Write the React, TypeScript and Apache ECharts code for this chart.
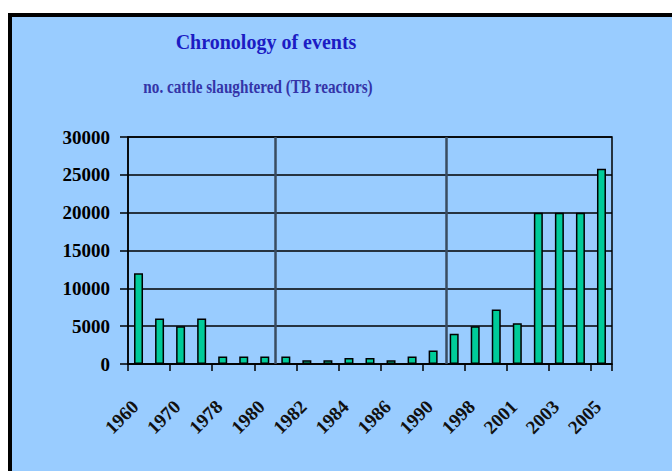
import React, { useEffect, useRef } from "react";
import * as echarts from "echarts";

const categories = [
  "1960", "1965", "1970", "1975", "1978", "1979", "1980", "1981", "1982", "1983", "1984", "1985",
  "1986", "1988", "1990", "1995", "1998", "2000", "2001", "2002", "2003", "2004", "2005",
];
const cattleSlaughtered = [
  12000, 6000, 5000, 6000, 1000, 1000, 1000, 1000, 500, 500, 800, 800,
  500, 1000, 1800, 4000, 5000, 7200, 5400, 20000, 20000, 20000, 25800,
];
const dividerPositions = [7, 15.1];
const yMin = 0;
const yMax = 30000;
const yInterval = 5000;

const titleText = "Chronology of events";
const subtitleText = "no. cattle slaughtered (TB reactors)";

const FONT = '"Liberation Serif", "Times New Roman", serif';

export default function App() {
  const ref = useRef<HTMLDivElement>(null);
  useEffect(() => {
    if (!ref.current) return;
    const chart = echarts.init(ref.current, undefined, { renderer: "svg" });
    chart.setOption({
      animation: false,
      backgroundColor: "#ffffff",
      graphic: [
        {
          type: "rect",
          z: -10,
          shape: { x: 10, y: 15, width: 700, height: 500 },
          style: { fill: "#99CCFF", stroke: "#000000", lineWidth: 4 },
          silent: true,
        },
        {
          type: "text",
          x: 266,
          y: 42,
          style: {
            text: titleText,
            fill: "#1c1cc4",
            font: `bold 20px ${FONT}`,
            textAlign: "center",
            textVerticalAlign: "middle",
          },
        },
        {
          type: "text",
          x: 258,
          y: 87,
          scaleX: 0.8,
          style: {
            text: subtitleText,
            fill: "#3434a8",
            font: `bold 19px ${FONT}`,
            textAlign: "center",
            textVerticalAlign: "middle",
          },
        },
      ],
      grid: {
        left: 128,
        top: 137,
        right: 60,
        bottom: 107,
        show: true,
        borderColor: "#000000",
        borderWidth: 1.5,
        backgroundColor: "transparent",
      },
      xAxis: [
        {
          type: "category",
          data: categories,
          boundaryGap: true,
          axisLine: { show: true, lineStyle: { color: "#000", width: 1.5 } },
          axisTick: { show: true, length: 7, lineStyle: { color: "#000", width: 1.5 } },
          axisLabel: {
            interval: 1,
            rotate: 45,
            margin: 36,
            padding: [0, 5, 0, 0],
            color: "#111",
            fontFamily: FONT,
            fontWeight: "bold",
            fontSize: 19,
          },
          splitLine: { show: false },
        },
        {
          type: "value",
          min: 0,
          max: categories.length,
          show: false,
          splitLine: { show: false },
        },
      ],
      yAxis: {
        type: "value",
        min: yMin,
        max: yMax,
        interval: yInterval,
        axisLine: { show: true, lineStyle: { color: "#000", width: 1.5 } },
        axisTick: { show: true, length: 8, lineStyle: { color: "#000", width: 1.5 } },
        axisLabel: {
          margin: 18,
          color: "#000",
          fontFamily: FONT,
          fontWeight: "bold",
          fontSize: 19,
          formatter: (v: number) => String(v),
        },
        splitLine: { show: true, lineStyle: { color: "#000", width: 1.5 } },
      },
      series: [
        {
          type: "bar",
          data: cattleSlaughtered,
          barWidth: 9,
          itemStyle: { color: "#00CC99", borderColor: "#000", borderWidth: 1.5 },
        },
        {
          type: "line",
          xAxisIndex: 1,
          data: [],
          markLine: {
            silent: true,
            symbol: "none",
            label: { show: false },
            lineStyle: { color: "#3a4c60", width: 2.5, type: "solid" },
            data: dividerPositions.map((v) => ({ xAxis: v })),
          },
        },
      ],
    });
    return () => chart.dispose();
  }, []);
  return (
    <div
      ref={ref}
      style={{ position: "fixed", left: 0, top: 0, width: 672, height: 471 }}
    />
  );
}
